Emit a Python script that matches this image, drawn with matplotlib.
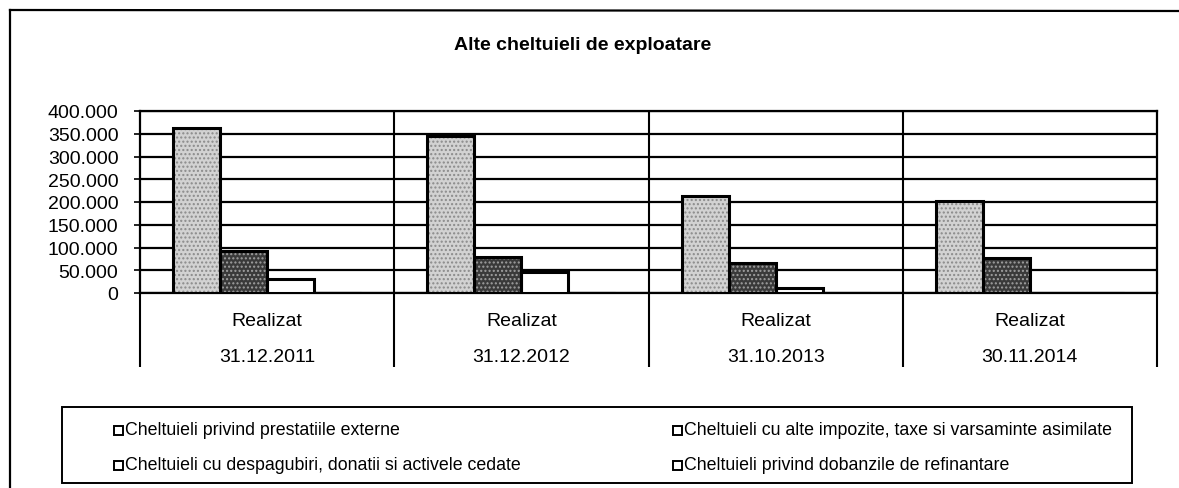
import matplotlib
matplotlib.use("Agg")
import matplotlib.pyplot as plt
from matplotlib.patches import Rectangle
from matplotlib.lines import Line2D
from matplotlib.ticker import FuncFormatter, MultipleLocator
import numpy as np

plt.rcParams['font.family'] = ['Liberation Sans', 'DejaVu Sans']

title = "Alte cheltuieli de exploatare"
categories_top = ["Realizat", "Realizat", "Realizat", "Realizat"]
categories_bottom = ["31.12.2011", "31.12.2012", "31.10.2013", "30.11.2014"]
series_names = [
    "Cheltuieli privind prestatiile externe",
    "Cheltuieli cu alte impozite, taxe si varsaminte asimilate",
    "Cheltuieli cu despagubiri, donatii si activele cedate",
    "Cheltuieli privind dobanzile de refinantare",
]
prestatii = [362000, 345000, 213000, 202000]
impozite = [92000, 80000, 66000, 78000]
despagubiri = [30000, 46000, 10000, 0]
dobanzi = [0, 0, 0, 0]
series_values = [prestatii, impozite, despagubiri, dobanzi]

face_colors = ["#d2d2d2", "#3a3a3a", "white", "white"]
hatch_colors = ["#8a8a8a", "#a0a0a0", None, None]

W, H = 1179, 489
fig = plt.figure(figsize=(W / 100, H / 100), dpi=100)

ax_l, ax_r, ax_t, ax_b = 140, 1157, 112, 294
ax = fig.add_axes([ax_l / W, 1 - ax_b / H, (ax_r - ax_l) / W, (ax_b - ax_t) / H])

n = len(categories_bottom)
x = np.arange(n)
w = 0.185
plt.rcParams['hatch.linewidth'] = 1.0
for k, vals in enumerate(series_values):
    pos = x + (k - 1.5) * w
    if hatch_colors[k] is not None:
        ax.bar(pos, vals, w, color=face_colors[k], edgecolor=hatch_colors[k],
               hatch='....', linewidth=0, zorder=3)
    else:
        ax.bar(pos, vals, w, color=face_colors[k], linewidth=0, zorder=3)
    ax.bar(pos, vals, w, fill=False, edgecolor='black', linewidth=2.2, zorder=4)

ax.set_xlim(-0.5, n - 0.5)
ax.set_ylim(0, 400000)
ax.yaxis.set_major_locator(MultipleLocator(50000))
ax.yaxis.set_major_formatter(FuncFormatter(lambda v, p: f"{v:,.0f}".replace(",", ".")))
ax.tick_params(axis='y', length=4.5, width=1.2, pad=11, labelsize=14, color='black')
ax.grid(axis='y', color='black', linewidth=1.6, zorder=1)

# category boundaries: vertical lines through plot and below
ax.set_xticks(np.arange(-0.5, n, 1.0))
ax.set_xticklabels([])
ax.tick_params(axis='x', direction='out', length=53, width=1.5, color='black')
for b in np.arange(0.5, n - 0.5, 1.0):
    ax.axvline(b, color='black', linewidth=1.5, zorder=2)

for s in ax.spines.values():
    s.set_linewidth(1.6)
    s.set_color('black')

for i in range(n):
    fig.text((ax_l + (i + 0.5) * (ax_r - ax_l) / n) / W, 1 - 322 / H, categories_top[i],
             ha='center', va='center', fontsize=14)
    fig.text((ax_l + (i + 0.5) * (ax_r - ax_l) / n) / W, 1 - 357 / H, categories_bottom[i],
             ha='center', va='center', fontsize=14)

fig.text(583 / W, 1 - 45 / H, title, ha='center', va='center', fontsize=14, fontweight='bold')

# outer chart frame (top and left)
fig.add_artist(Line2D([10 / W, 1.0], [1 - 11 / H, 1 - 12 / H], transform=fig.transFigure,
                      color='black', linewidth=1.6))
fig.add_artist(Line2D([10 / W, 10 / W], [1 - 11 / H, 0.0], transform=fig.transFigure,
                      color='black', linewidth=1.6))

# legend box
lx0, lx1, ly0, ly1 = 62, 1132, 408, 484
fig.add_artist(Rectangle((lx0 / W, 1 - ly1 / H), (lx1 - lx0) / W, (ly1 - ly0) / H,
                         transform=fig.transFigure, fill=False, edgecolor='black', linewidth=1.4))
legend_pos = [(114, 431), (673, 431), (114, 466), (673, 466)]
for k, (px, py) in enumerate(legend_pos):
    fig.add_artist(Rectangle((px / W, 1 - (py + 4.5) / H), 9 / W, 9 / H,
                             transform=fig.transFigure, facecolor='white',
                             edgecolor='black', linewidth=1.4))
    fig.text((px + 11) / W, 1 - py / H, series_names[k], ha='left', va='center', fontsize=12.8)

fig.savefig("out.png", dpi=100)
